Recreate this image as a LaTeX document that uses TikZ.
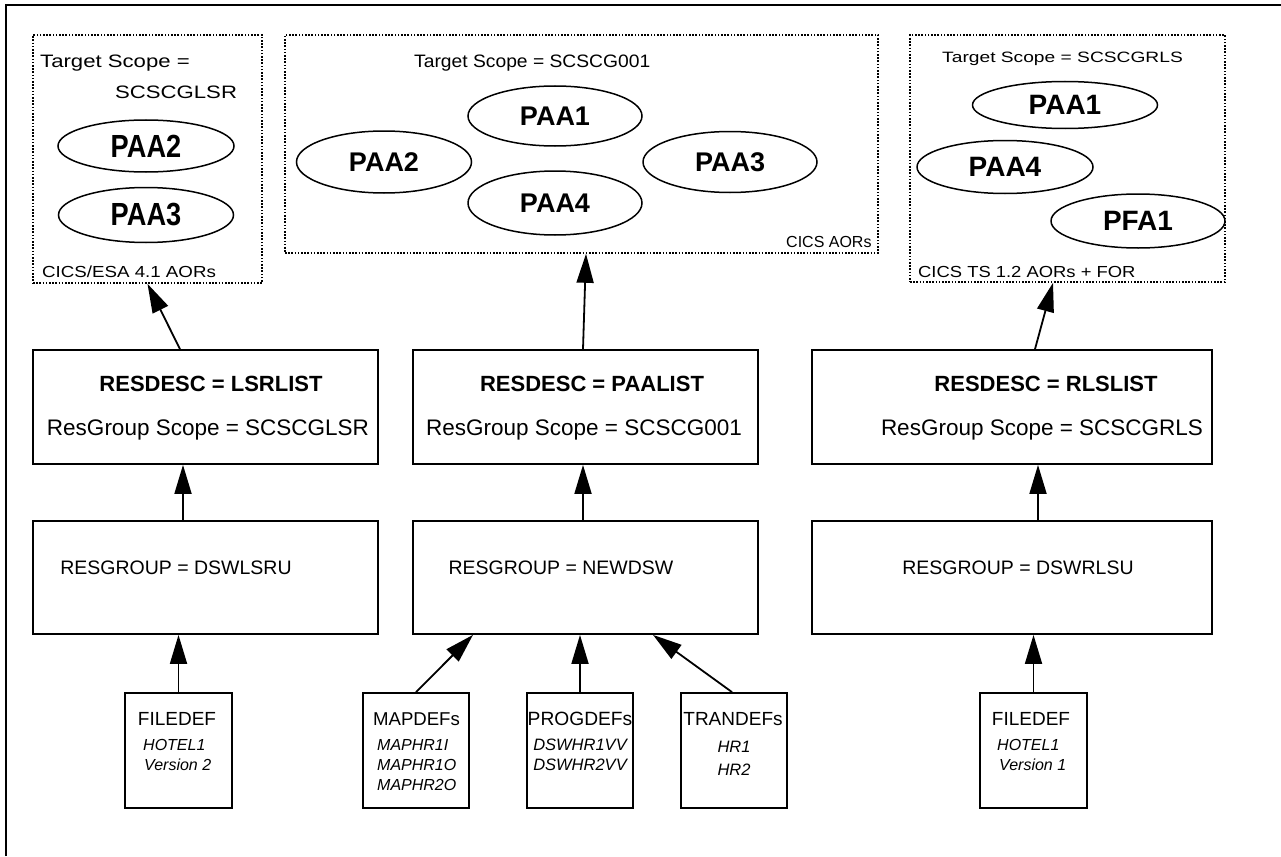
\documentclass[tikz,border=0pt]{standalone}
\usepackage{fontspec}
\setmainfont{Liberation Sans}
\usetikzlibrary{arrows.meta,shapes.geometric,calc}
% text of a given size, stretched horizontally by a factor
\newcommand{\tx}[3]{\scalebox{#2}[1]{\fontsize{#1}{#1}\selectfont #3}}
\newcommand{\fs}[1]{\fontsize{#1}{#1}\selectfont}

\begin{document}
\begin{tikzpicture}[x=1pt,y=-1pt,
  box/.style={draw, line width=1.8pt, inner sep=0pt},
  scopebox/.style={draw, line width=1.6pt, dash pattern=on 1.6pt off 1.6pt, inner sep=0pt},
  aor/.style={draw, ellipse, line width=1.5pt, inner sep=0pt},
  link/.style={line width=1.8pt, -{Triangle[length=29pt,width=17pt]}},
  txt/.style={inner sep=0pt, anchor=base},
  txtl/.style={inner sep=0pt, anchor=base west},
]
\useasboundingbox (0,0) rectangle (1281,856);

% outer frame (top and left edges)
\draw[line width=2pt] (6,856) -- (6,5) -- (1281,5);

% ---- target scopes ----
\node[scopebox, minimum width=229pt, minimum height=248pt] (t1) at (147.5,159) {};
\node[scopebox, minimum width=593pt, minimum height=218pt] (t2) at (581.5,144) {};
\node[scopebox, minimum width=315pt, minimum height=247pt] (t3) at (1067.5,158.5) {};

\node[txtl] (t1a) at (40,68) {\tx{18}{1.23}{Target Scope =}};
\node[txtl] (t1b) at (115,99) {\tx{18}{1.23}{SCSCGLSR}};
\node[txtl] (t1c) at (42,277) {\tx{16}{1.17}{CICS/ESA 4.1 AORs}};

\node[txtl] (t2a) at (414,68) {\tx{18}{1.07}{Target Scope = SCSCG001}};
\node[txtl] (t2c) at (786,247) {\tx{16}{1.0}{CICS AORs}};

\node[txtl] (t3a) at (942,63) {\tx{15}{1.28}{Target Scope = SCSCGRLS}};
\node[txtl] (t3c) at (918,277) {\tx{16}{1.15}{CICS TS 1.2 AORs + FOR}};

% regions in the left scope
\node[aor, minimum width=176pt, minimum height=52pt] (l2) at (146,146) {\tx{32}{0.85}{\bfseries PAA2}};
\node[aor, minimum width=175pt, minimum height=55pt] (l3) at (146,215) {\tx{32}{0.85}{\bfseries PAA3}};

% regions in the middle scope
\node[aor, minimum width=174pt, minimum height=60pt] (m1) at (555,116) {\tx{27}{1}{\bfseries PAA1}};
\node[aor, minimum width=175pt, minimum height=62pt] (m2) at (384,162) {\tx{27}{1}{\bfseries PAA2}};
\node[aor, minimum width=174pt, minimum height=64pt] (m4) at (555,203) {\tx{27}{1}{\bfseries PAA4}};
\node[aor, minimum width=174pt, minimum height=61pt] (m3) at (730,162) {\tx{27}{1}{\bfseries PAA3}};

% regions in the right scope
\node[aor, minimum width=185pt, minimum height=47pt] (r1) at (1065,105) {\tx{28}{1}{\bfseries PAA1}};
\node[aor, minimum width=176pt, minimum height=53pt] (r4) at (1005,167) {\tx{28}{1}{\bfseries PAA4}};
\node[aor, minimum width=174pt, minimum height=54pt] (r5) at (1138,221) {\tx{28}{1}{\bfseries PFA1}};

% ---- resource descriptions ----
\node[box, minimum width=345pt, minimum height=114pt] (rd1) at (205.5,407) {};
\node[box, minimum width=345pt, minimum height=114pt] (rd2) at (585.5,407) {};
\node[box, minimum width=400pt, minimum height=114pt] (rd3) at (1012,407) {};

\node[txt] (rd1a) at (211,391) {\fs{22}\bfseries RESDESC = LSRLIST};
\node[txt] (rd1b) at (208,435) {\fs{22.5}ResGroup Scope = SCSCGLSR};
\node[txt] (rd2a) at (592,391) {\fs{22}\bfseries RESDESC = PAALIST};
\node[txt] (rd2b) at (584,435) {\fs{22.5}ResGroup Scope = SCSCG001};
\node[txt] (rd3a) at (1046,391) {\fs{22}\bfseries RESDESC = RLSLIST};
\node[txt] (rd3b) at (1042,435) {\fs{22.5}ResGroup Scope = SCSCGRLS};

% ---- resource groups ----
\node[box, minimum width=345pt, minimum height=113pt] (rg1) at (205.5,577.5) {};
\node[box, minimum width=345pt, minimum height=113pt] (rg2) at (585.5,577.5) {};
\node[box, minimum width=400pt, minimum height=113pt] (rg3) at (1012,577.5) {};

\node[txt] (rg1a) at (176,574) {\fs{19.5}RESGROUP = DSWLSRU};
\node[txt] (rg2a) at (561,574) {\fs{19.5}RESGROUP = NEWDSW};
\node[txt] (rg3a) at (1018,574) {\fs{19.5}RESGROUP = DSWRLSU};

% ---- resource definitions ----
\node[box, minimum width=107pt, minimum height=115pt] (fd1) at (178.5,750.5) {};
\node[box, minimum width=106pt, minimum height=115pt] (map) at (416,750.5) {};
\node[box, minimum width=106pt, minimum height=115pt] (prog) at (580,750.5) {};
\node[box, minimum width=106pt, minimum height=115pt] (tran) at (734,750.5) {};
\node[box, minimum width=107pt, minimum height=115pt] (fd2) at (1033.5,750.5) {};

\node[txt] (fd1a) at (177,725) {\fs{19}FILEDEF};
\node[txtl] (fd1b) at (143,750) {\fs{16}\itshape HOTEL1};
\node[txtl] (fd1c) at (144,770) {\fs{16}\itshape Version 2};

\node[txt] (mapa) at (416.5,725) {\fs{18.6}MAPDEFs};
\node[txtl] (mapb) at (377,750) {\fs{16}\itshape MAPHR1I};
\node[txtl] (mapc) at (377,770) {\fs{16}\itshape MAPHR1O};
\node[txtl] (mapd) at (377,790) {\fs{16}\itshape MAPHR2O};

\node[txt] (proga) at (580,725) {\fs{19.2}PROGDEFs};
\node[txt] (progb) at (580,750) {\fs{16.5}\itshape DSWHR1VV};
\node[txt] (progc) at (580,770) {\fs{16.5}\itshape DSWHR2VV};

\node[txt] (trana) at (733,725) {\fs{19}TRANDEFs};
\node[txt] (tranb) at (734,752) {\fs{16.5}\itshape HR1};
\node[txt] (tranc) at (734,775) {\fs{16.5}\itshape HR2};

\node[txt] (fd2a) at (1031,725) {\fs{19}FILEDEF};
\node[txtl] (fd2b) at (997,750) {\fs{16}\itshape HOTEL1};
\node[txtl] (fd2c) at (999,770) {\fs{16}\itshape Version 1};

% ---- connectors ----
\draw[link] (fd1.north) -- (fd1.north |- rg1.south);
\draw[link] (map.north) -- ($(rg2.south)+(-112.5,0)$);
\draw[link] (prog.north) -- (prog.north |- rg2.south);
\draw[link] ($(tran.north)+(-2,0)$) -- ($(rg2.south)+(67.5,0)$);
\draw[link] (fd2.north) -- (fd2.north |- rg3.south);

\draw[link] ($(rg1.north)+(-22.5,0)$) -- ($(rd1.south)+(-22.5,0)$);
\draw[link] ($(rg2.north)+(-2.5,0)$) -- ($(rd2.south)+(-2.5,0)$);
\draw[link] ($(rg3.north)+(26,0)$) -- ($(rd3.south)+(26,0)$);

\draw[link] ($(rd1.north)+(-25.5,0)$) -- (t1.south);
\draw[link] ($(rd2.north)+(-2.5,0)$) -- ($(t2.south)+(4.5,0)$);
\draw[link] ($(rd3.north)+(23,0)$) -- ($(t3.south)+(-14.5,0)$);
\end{tikzpicture}
\end{document}
